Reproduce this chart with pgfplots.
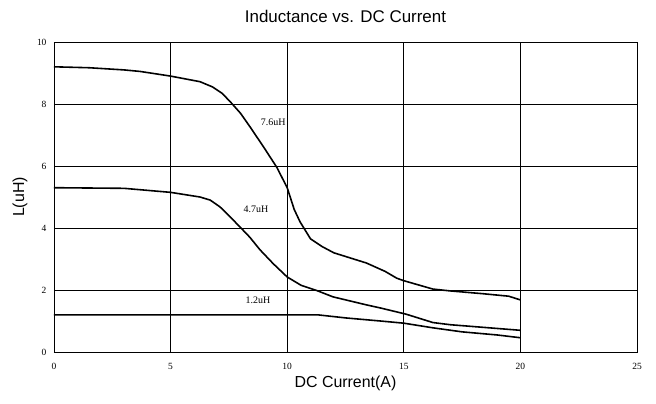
\documentclass[border=0pt]{standalone}
\usepackage{fontspec}
\setmainfont{Liberation Serif}
\newfontfamily\arial{Liberation Sans}
\usepackage{pgfplots}
\pgfplotsset{compat=1.18}
\tikzset{curve/.style={black, line width=1.6pt, mark=none}}
\begin{document}
\begin{tikzpicture}
\begin{axis}[
  scale only axis,
  width=583bp, height=310bp,
  xmin=0, xmax=25, ymin=0, ymax=10,
  xtick={0,5,10,15,20,25}, ytick={0,2,4,6,8,10},
  grid=major,
  major grid style={black, line width=0.7pt},
  axis line style={black, line width=0.8pt},
  major tick length=0pt,
  /pgf/number format/assume math mode=true,
  tick label style={font=\fontsize{9.5}{10}\selectfont},
  xticklabel style={yshift=-8bp},
  yticklabel style={xshift=-4bp},
  title={Inductance vs. DC Current},
  title style={font=\arial\fontsize{17}{20}\selectfont, at={(rel axis cs:0.5,1.062)}, anchor=center},
  xlabel={DC Current(A)},
  xlabel style={font=\arial\fontsize{16}{19}\selectfont, at={(rel axis cs:0.5,-0.1)}, anchor=center},
  ylabel={L(uH)},
  ylabel style={font=\arial\fontsize{16}{19}\selectfont, at={(rel axis cs:-0.0583,0.5)}, anchor=center},
]
\addplot[curve] coordinates {(0,9.2) (1.5,9.17) (3,9.1) (3.7,9.05) (5,8.9) (6.26,8.72) (6.8,8.55) (7.2,8.35) (7.55,8.08) (8,7.7) (8.4,7.27) (9,6.6) (9.56,5.95) (10,5.3) (10.3,4.6) (10.55,4.2) (11,3.65) (11.5,3.4) (12,3.2) (13.4,2.87) (14.2,2.6) (14.7,2.38) (15,2.3) (16.25,2.03) (17,1.97) (18.4,1.88) (19.5,1.8) (20,1.68)};
\addplot[curve] coordinates {(0,5.3) (3,5.28) (5,5.15) (6.26,5.0) (6.7,4.9) (7.12,4.68) (7.5,4.4) (7.98,4.03) (8.4,3.7) (8.83,3.3) (9.4,2.85) (10,2.42) (10.6,2.15) (11.28,1.98) (11.96,1.78) (13.4,1.52) (14,1.42) (15.1,1.22) (16.25,0.95) (17,0.88) (18,0.82) (19,0.76) (20,0.7)};
\addplot[curve] coordinates {(0,1.2) (5,1.2) (10,1.2) (11.3,1.2) (12.5,1.1) (14,1.0) (15,0.93) (16.25,0.78) (17.5,0.65) (19,0.55) (20,0.46)};
\node[font=\fontsize{10}{11}\selectfont] at (axis cs:9.4,7.4) {7.6uH};
\node[font=\fontsize{10}{11}\selectfont] at (axis cs:8.66,4.6) {4.7uH};
\node[font=\fontsize{10}{11}\selectfont] at (axis cs:8.75,1.68) {1.2uH};
\coordinate (bbsw) at (rel axis cs:-0.0926,-0.1645);
\coordinate (bbne) at (rel axis cs:1.0326,1.1355);
\end{axis}
\pgfresetboundingbox
\path[use as bounding box] (bbsw) rectangle (bbne);
\end{tikzpicture}
\end{document}
